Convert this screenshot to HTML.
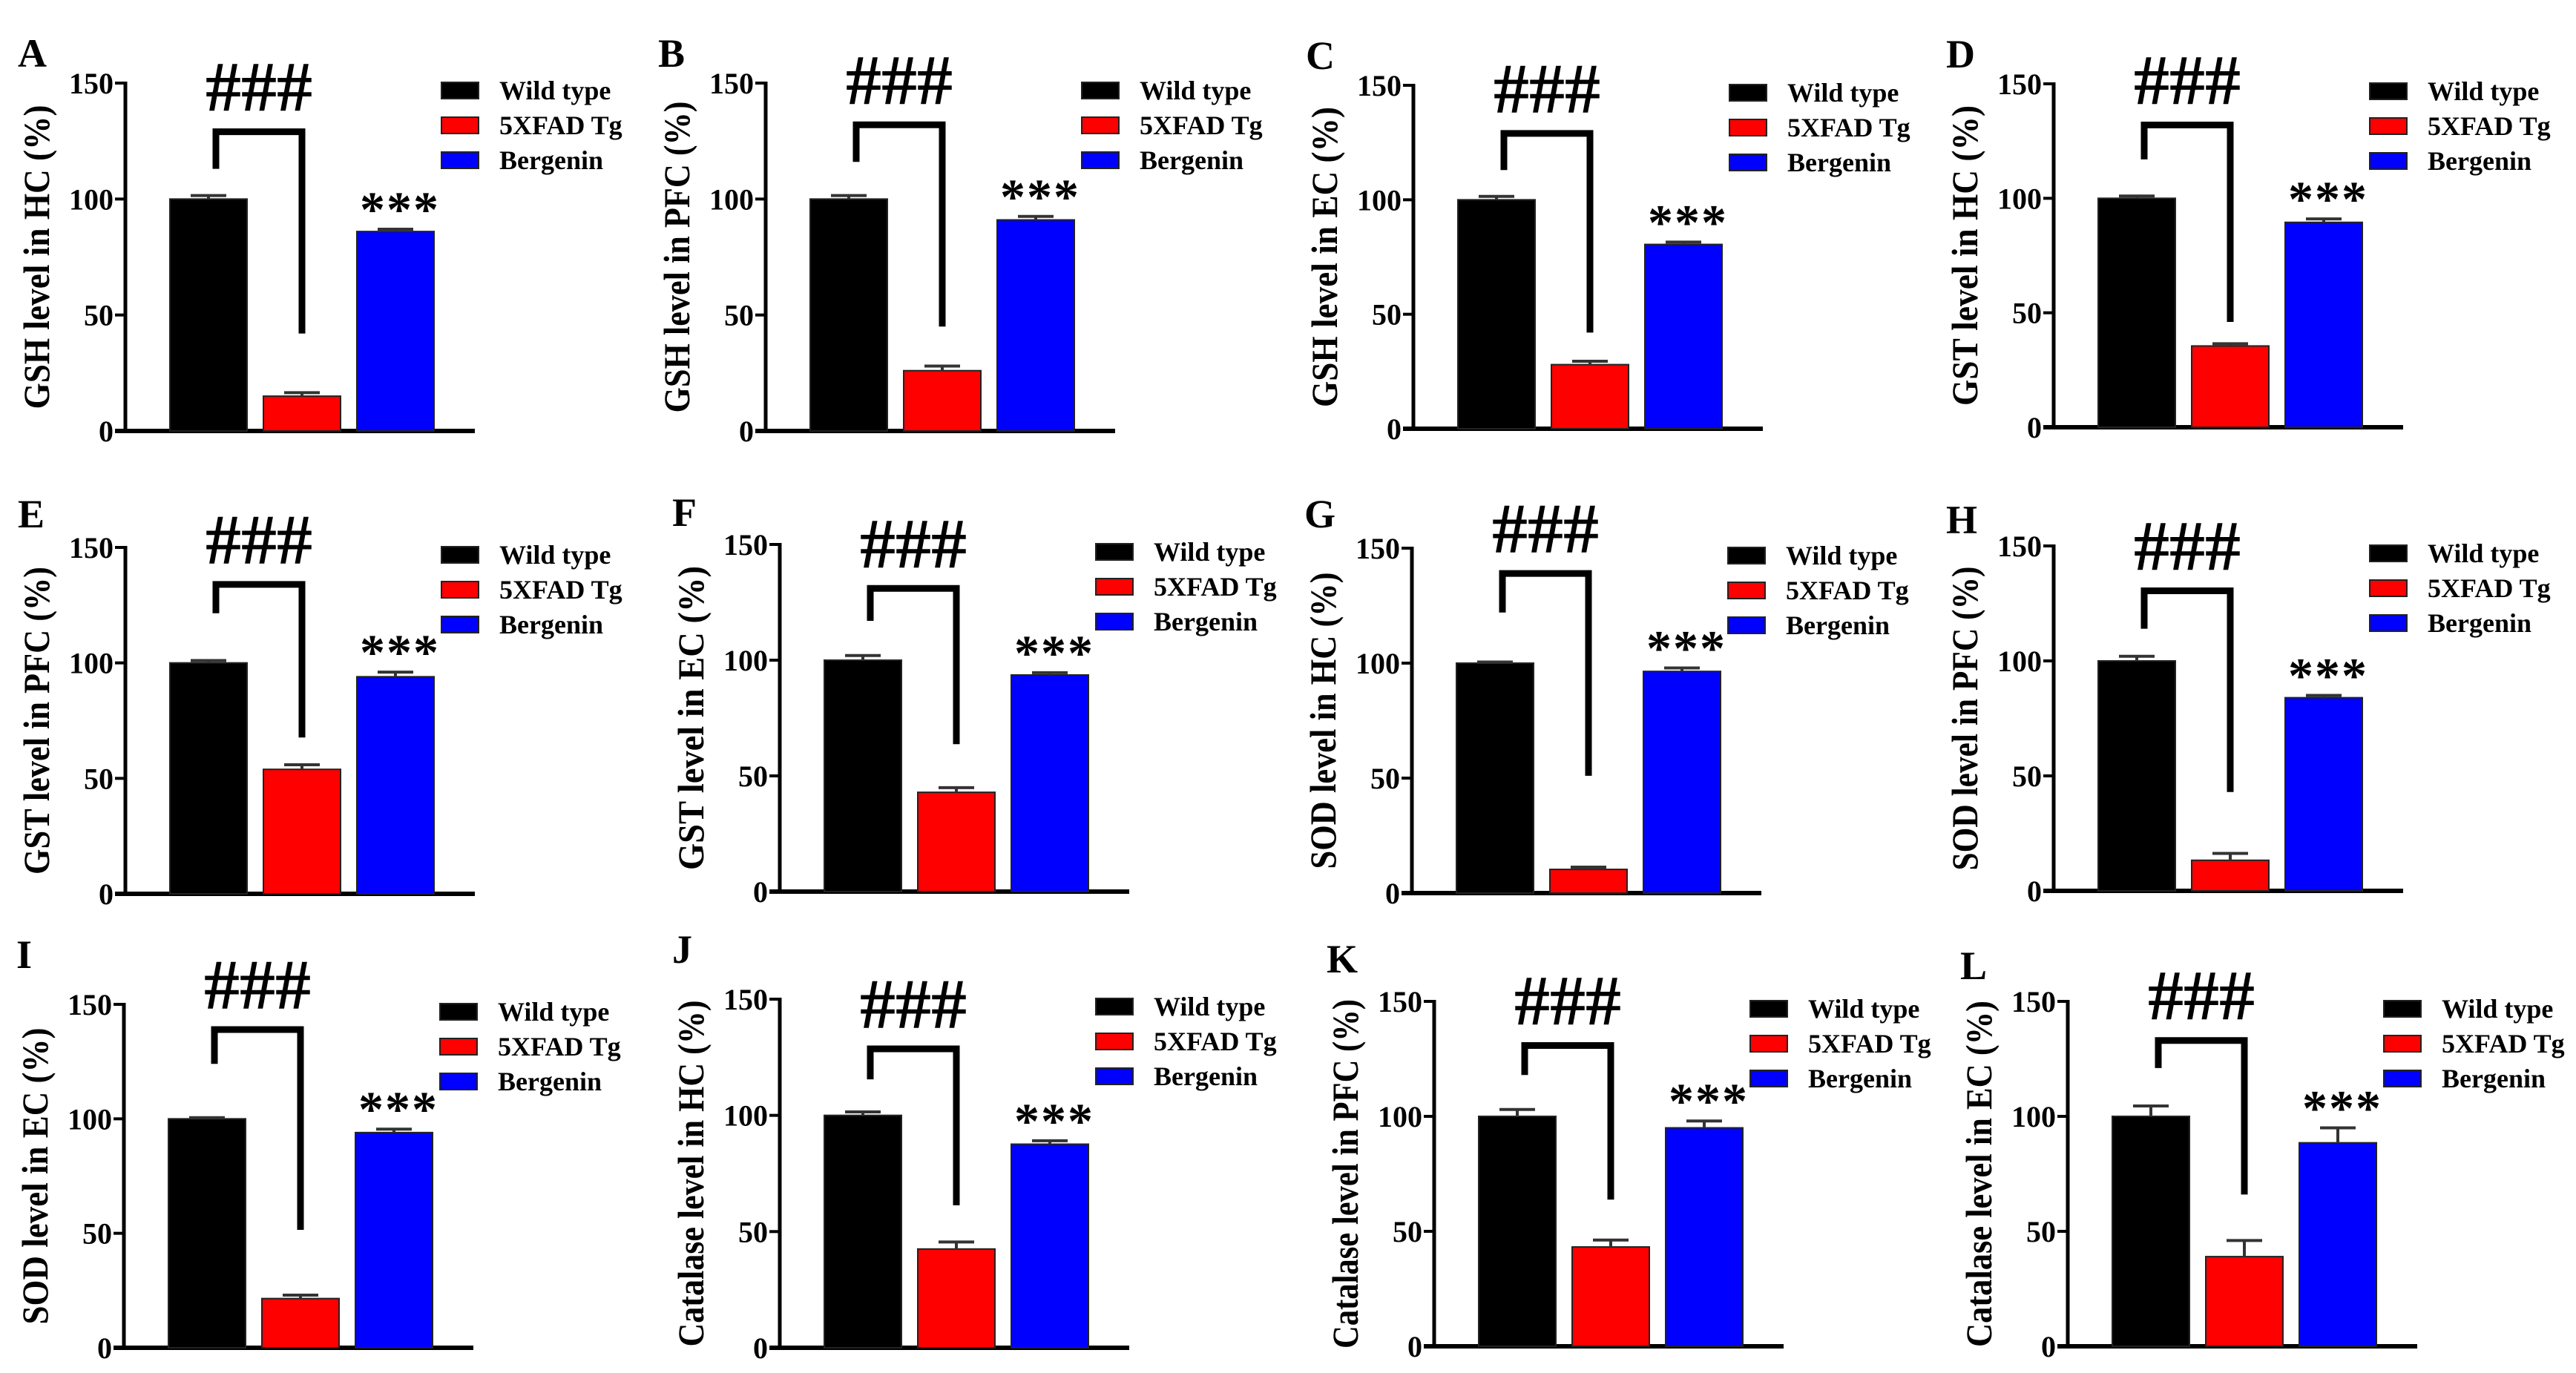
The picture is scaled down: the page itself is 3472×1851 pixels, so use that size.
<!DOCTYPE html>
<html><head><meta charset="utf-8"><style>
html,body{margin:0;padding:0;background:#fff;}
svg{display:block;}
text{font-family:"Liberation Serif",serif;font-weight:bold;fill:#000;}
</style></head><body>
<svg id="fig" width="3472" height="1851" viewBox="0 0 3472 1851" xmlns="http://www.w3.org/2000/svg"></svg>
<script>
const panelLetters=["A","B","C","D","E","F","G","H","I","J","K","L"];
const yTitles=["GSH level in HC (%)","GSH level in PFC (%)","GSH level in EC (%)","GST level in HC (%)","GST level in PFC (%)","GST level in EC (%)","SOD level in HC (%)","SOD level in PFC (%)","SOD level in EC (%)","Catalase level in HC (%)","Catalase level in PFC (%)","Catalase level in EC (%)"];
const groups=["Wild type","5XFAD Tg","Bergenin"];
const wtValues=[100,100,100,100,100,100,100,100,100,100,100,100];
const wtErr=[1.5,1.5,1.5,1,1,2,0.5,2,0.5,1.5,3,4.5];
const tgValues=[15,26,28,35.5,53.9,42.9,10.3,13.3,21.5,42.5,43.2,39];
const tgErr=[1.5,2,1.5,1,2,2,1,3,1.5,3,3,7];
const bergValues=[86,91,80.5,89.5,94,93.6,96.4,84,94,87.6,95,88.5];
const bergErr=[1,1.5,1,1.5,2,1,1.5,1,1.5,1.5,3,6.5];
const bracketTop=[129,132,129,132,134,131,139,130.5,139,128.6,130.8,133];
const bracketLeft=[113,116,113,117,121.5,117,122,114,124,115.5,118,121];
const bracketRight=[42,45,42,46,67.7,63.7,51,43,51.5,61.3,63.8,66];
const yTicks=[0,50,100,150];
const yTickLabels=["0","50","100","150"];

// layout (pixel positions, not data)
const axisX=[169,1032,1905,2768,169,1051,1903,2768,167,1051,1933,2787];
const yTopPx=[112,112,115,113,738,734,739,736,1354,1347,1350,1350];
const yZeroPx=[581,581,578,576,1205,1202,1204,1201,1817,1817,1815,1815];
const letterDy=[-22,-22,-22,-22,-27,-25,-28,-17,-49,-49,-39,-30];
const titleLen=[410,420,405,405,415,410,400,410,400,467,471,467];
const colors=["#000000","#ff0000","#0000ff"];

const svg=document.getElementById('fig');
const NS="http://www.w3.org/2000/svg";
function mk(tag,attrs,parent){const e=document.createElementNS(NS,tag);for(const k in attrs)e.setAttribute(k,attrs[k]);(parent||svg).appendChild(e);return e;}

for(let p=0;p<12;p++){
  const ax=axisX[p],yT=yTopPx[p],y0=yZeroPx[p];
  const yScale=v=>y0-(v/150)*(y0-yT);
  const g=mk('g',{});
  
  

  const lt=mk('text',{x:ax-145,y:yT+letterDy[p],'font-size':54},g);
  lt.textContent=panelLetters[p];
  
  

  const cy=(yT+y0)/2,cx=ax-119;
  const tt=mk('text',{x:cx,y:cy+16,'font-size':50,'text-anchor':'middle',transform:`rotate(-90 ${cx} ${cy})`,textLength:titleLen[p],lengthAdjust:'spacingAndGlyphs'},g);
  tt.textContent=yTitles[p];
  
  

  const ya=mk('line',{x1:ax,y1:yT-2,x2:ax,y2:y0,stroke:'#000','stroke-width':5},g);
  
  
  const xa=mk('line',{x1:ax-14,y1:y0,x2:ax+471,y2:y0,stroke:'#000','stroke-width':6},g);
  
  
  yTicks.forEach((t,i)=>{
    const yy=yScale(t);
    const tk=mk('line',{x1:ax-14,y1:yy,x2:ax,y2:yy,stroke:'#000','stroke-width':4},g);
    
    
    const tl=mk('text',{x:ax-16,y:yy+14,'font-size':40,'text-anchor':'end'},g);
    tl.textContent=yTickLabels[i];
    
    
  });

  const vals=[wtValues[p],tgValues[p],bergValues[p]];
  const errs=[wtErr[p],tgErr[p],bergErr[p]];
  const offs=[60,186,312];
  const bw=104;
  for(let b=0;b<3;b++){
    const x=ax+offs[b],top=yScale(vals[b]);
    const r=mk('rect',{x:x,y:top,width:bw,height:y0-top,fill:colors[b],stroke:'#222','stroke-width':2},g);
    
    
    const et=yScale(vals[b]+errs[b]),c=x+bw/2;
    const eb=mk('path',{d:`M${c},${top} V${et} M${c-24},${et} H${c+24}`,stroke:'#333','stroke-width':4,fill:'none'},g);
    
    
  }
  const lx=ax+offs[0]+bw/2+10,rx=ax+offs[1]+bw/2;
  const bt=yScale(bracketTop[p]);
  const br=mk('path',{d:`M${lx},${yScale(bracketLeft[p])} V${bt} H${rx} V${yScale(bracketRight[p])}`,stroke:'#000','stroke-width':9,fill:'none'},g);
  
  
  const hs=mk('text',{x:(lx+rx)/2,y:bt-28,'font-size':96,'text-anchor':'middle','font-weight':'normal'},g);
  hs.textContent='###';
  
  
  const bc=ax+offs[2]+bw/2+6;
  const st=mk('text',{x:bc,y:yScale(bergValues[p]+bergErr[p])-4,'font-size':68,'text-anchor':'middle','font-weight':'normal','letter-spacing':'2'},g);
  st.textContent='***';
  
  

  for(let b=0;b<3;b++){
    const ly=yT+10+b*47;
    const ls=mk('rect',{x:ax+426,y:ly-11,width:50,height:22,fill:colors[b],stroke:'#222','stroke-width':2},g);
    
    
    const lt2=mk('text',{x:ax+504,y:ly+12,'font-size':36},g);
    lt2.textContent=groups[b];
    
    
  }
}
</script>
</body></html>
